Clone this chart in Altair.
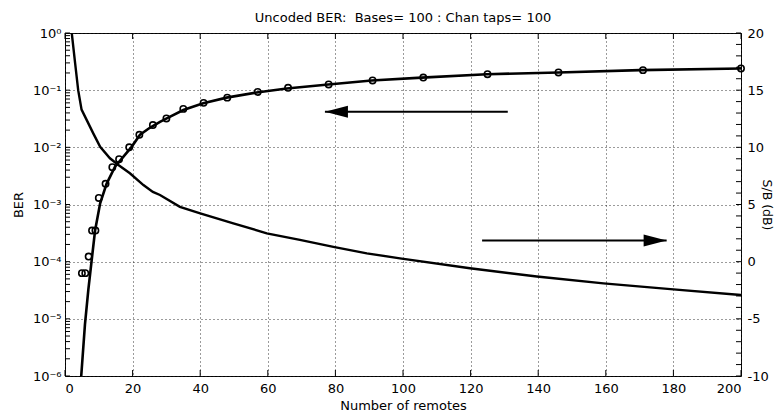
import altair as alt
import pandas as pd

# ---------------- data ----------------
# analytical BER curve (left axis, log)
ber_x = [4.8, 5.9, 6.9, 7.9, 8.9, 10.4, 12.3, 14.8, 17.3, 19.7, 22.2, 25.1, 28.1,
         30.1, 35, 40.9, 47.8, 56.7, 65.6, 77.9, 90.7, 105.5, 124.8, 146, 170.1, 200]
ber_y = [1e-6, 7.9e-6, 3.2e-5, 1.07e-4, 3.5e-4, 1.05e-3, 2.3e-3, 4.6e-3, 6.9e-3,
         1.02e-2, 1.66e-2, 2.2e-2, 2.8e-2, 3.2e-2, 4.5e-2, 5.9e-2, 7.4e-2, 9.1e-2,
         0.107, 0.126, 0.148, 0.166, 0.19, 0.204, 0.224, 0.24]
# simulated BER points (circles)
sim_x = [5, 6, 7, 8, 9, 10, 12, 14, 16, 19, 22, 26, 30, 35, 41, 48, 57, 66, 78,
         91, 106, 125, 146, 171, 200]
sim_y = [6.3e-5, 6.3e-5, 1.23e-4, 3.5e-4, 3.5e-4, 1.3e-3, 2.3e-3, 4.5e-3, 6.2e-3,
         1.0e-2, 1.66e-2, 2.45e-2, 3.2e-2, 4.7e-2, 6.0e-2, 7.4e-2, 9.3e-2, 0.11,
         0.126, 0.148, 0.166, 0.19, 0.204, 0.224, 0.24]
# S/B curve (right axis, dB)
sir_x = [2.0, 3.0, 3.9, 4.9, 6.4, 8.4, 10.4, 13.3, 15.8, 19.2, 23.2, 26, 28.1, 34,
         40, 49.8, 59.7, 69.5, 79.4, 89.3, 99.1, 119.8, 139.6, 159.3, 180, 200]
sir_y = [20, 17.35, 15.0, 13.3, 12.4, 11.2, 10.05, 9.04, 8.45, 7.73, 6.7, 6.1, 5.83,
         4.8, 4.23, 3.35, 2.48, 1.9, 1.3, 0.73, 0.29, -0.58, -1.3, -1.9, -2.42, -2.92]

# arrows (tip, tail, level)
arrow_left = {"x": [76.9], "x2": [131.0], "ber": [0.042]}
arrow_right = {"x": [123.4], "x2": [178.0], "sir": [1.85]}

# axes
x_ticks = [0, 20, 40, 60, 80, 100, 120, 140, 160, 180, 200]
left_exps = [0, -1, -2, -3, -4, -5, -6]
left_vals = [1, 1e-1, 1e-2, 1e-3, 1e-4, 1e-5, 1e-6]
left_labels = ["10\u2070", "10\u207b\u00b9", "10\u207b\u00b2", "10\u207b\u00b3",
               "10\u207b\u2074", "10\u207b\u2075", "10\u207b\u2076"]
left_minor = [m * d for d in [1e-6, 1e-5, 1e-4, 1e-3, 1e-2, 1e-1]
              for m in [1, 2, 3, 4, 5, 6, 7, 8, 9]] + [1]
right_vals = [-10, -5, 0, 5, 10, 15, 20]
right_minor = list(range(-10, 21))

title_text = "Uncoded BER:\u00a0 Bases= 100 : Chan taps= 100"
x_title = "Number of remotes"
left_title = "BER"
right_title = "S/B (dB)"

W, H = 676, 343
FONT = "DejaVu Sans"

# ---------------- encodings ----------------
xscale = alt.Scale(domain=[0, 200], nice=False, zero=False)
xaxis = alt.Axis(values=x_ticks, title=x_title, grid=True, ticks=False, domain=False,
                 labelPadding=6, titlePadding=4, format="d")
lscale = alt.Scale(type="log", domain=[1e-6, 1], nice=False)
expr = " : ".join(f"round(log(datum.value)/LN10) == {e} ? '{l}'"
                  for e, l in zip(left_exps, left_labels)) + " : ''"
laxis = alt.Axis(values=left_vals, title=left_title, grid=True, ticks=False,
                 domain=False, labelExpr=expr, labelPadding=4, titlePadding=7,
                 orient="left")
rscale = alt.Scale(domain=[-10, 20], nice=False, zero=False)
raxis = alt.Axis(values=right_vals, title=right_title, grid=False, ticks=False,
                 domain=False, labelPadding=6, orient="right",
                 labelExpr="'' + datum.value", titleX=18, titleFontSize=12.5)


def X(f="x"):
    return alt.X(f"{f}:Q", scale=xscale, axis=xaxis)


def YL():
    return alt.Y("ber:Q", scale=lscale, axis=laxis)


def YR():
    return alt.Y("sir:Q", scale=rscale, axis=raxis)


df_ber = pd.DataFrame({"x": ber_x, "ber": ber_y})
df_sim = pd.DataFrame({"x": sim_x, "ber": sim_y})
df_sir = pd.DataFrame({"x": sir_x, "sir": sir_y})
df_al = pd.DataFrame(arrow_left)
df_ar = pd.DataFrame(arrow_right)
df_lt = pd.DataFrame({"ber": left_minor})
df_rt = pd.DataFrame({"sir": right_minor})
df_xt = pd.DataFrame({"x": x_ticks})
df_title = pd.DataFrame({"t": [title_text]})

ber_line = alt.Chart(df_ber).mark_line(color="black", strokeWidth=2.6, clip=True).encode(
    x=X(), y=YL())
sim_pts = alt.Chart(df_sim).mark_point(shape="circle", filled=False, color="black",
                                       size=40, strokeWidth=1.6, opacity=1).encode(
    x=X(), y=YL())
left_ticks = alt.Chart(df_lt).mark_rule(color="black", strokeWidth=1).encode(
    y=YL(), x=alt.value(0), x2=alt.value(5))
x_ticks_bot = alt.Chart(df_xt).mark_rule(color="black", strokeWidth=1).encode(
    x=X(), y=alt.value(H), y2=alt.value(H - 6))
x_ticks_top = alt.Chart(df_xt).mark_rule(color="black", strokeWidth=1).encode(
    x=X(), y=alt.value(0), y2=alt.value(6))
al_line = alt.Chart(df_al).mark_rule(color="black", strokeWidth=2).encode(
    x=X(), x2="x2:Q", y=YL())
al_head = alt.Chart(df_al).mark_point(shape="M0,0L2,-0.52L2,0.52Z", filled=True,
                                      color="black", size=529, opacity=1).encode(
    x=X(), y=YL())
title_mark = alt.Chart(df_title).mark_text(
    font=FONT, fontSize=13, color="black", align="center", baseline="middle"
).encode(text="t:N", x=alt.value(W / 2), y=alt.value(-15))

left_group = alt.layer(ber_line, sim_pts, left_ticks, x_ticks_bot, x_ticks_top,
                       al_line, al_head, title_mark)

sir_line = alt.Chart(df_sir).mark_line(color="black", strokeWidth=2.4, clip=True).encode(
    x=X(), y=YR())
right_ticks = alt.Chart(df_rt).mark_rule(color="black", strokeWidth=1).encode(
    y=YR(), x=alt.value(W), x2=alt.value(W - 5))
ar_line = alt.Chart(df_ar).mark_rule(color="black", strokeWidth=2).encode(
    x=X(), x2="x2:Q", y=YR())
ar_head = alt.Chart(df_ar).mark_point(shape="M0,0L-2,-0.52L-2,0.52Z", filled=True,
                                      color="black", size=529, opacity=1).encode(
    x=X("x2"), y=YR())

right_group = alt.layer(sir_line, right_ticks, ar_line, ar_head)

chart = alt.layer(left_group, right_group).resolve_scale(y="independent").properties(
    width=W, height=H,
    background="white",
    autosize=alt.AutoSizeParams(type="none"),
    padding={"left": 57, "top": 25, "right": 35, "bottom": 36},
).configure_view(stroke="black", strokeWidth=1).configure_axis(
    labelFont=FONT, labelFontSize=13, labelColor="black",
    titleFont=FONT, titleFontSize=13, titleFontWeight="normal", titleColor="black",
    gridColor="#222222", gridDash=[1, 3], gridOpacity=0.9, gridWidth=1,
)

chart.save("out.html", embed_options={"renderer": "svg", "actions": False})
